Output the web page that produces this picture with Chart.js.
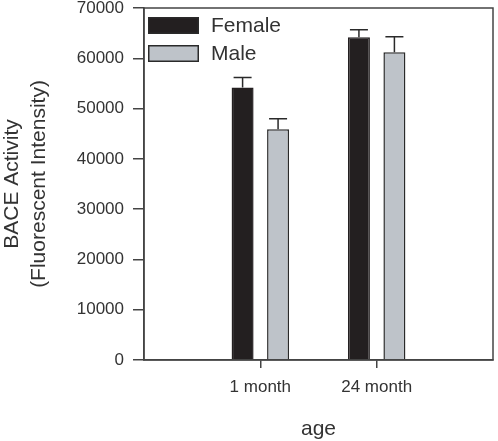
<html>
	<head>
	<title>BACE Activity</title>
	<meta charset="utf-8">
	<script src="https://cdn.jsdelivr.net/npm/chart.js@4.4.1/dist/chart.umd.min.js"></script>
	<style>
		body { margin: 0; background: #fff; }
		canvas { display: block; }
	</style>
	</head>
	<body>
	<canvas id="baceChart" width="498" height="441"></canvas>
	<script>
	// values
	var categories = ['1 month', '24 month'];
	var seriesNames = ['Female', 'Male'];
	var femaleMean = [54200, 64200];
	var femaleErr = [2000, 1450];
	var maleMean = [45900, 61200];
	var maleErr = [2100, 3100];
	var yTicks = [0, 10000, 20000, 30000, 40000, 50000, 60000, 70000];

	var font = '"Liberation Sans", Arial, sans-serif';
	var ink = '#333333';
	var axisColor = '#444444';

	// empty slots either side so the two groups sit at 1/3 and 2/3 of the axis
	var labels = [''].concat(categories).concat(['']);
	function pad(arr) { return [null].concat(arr).concat([null]); }

	// up-only error bars with a cap
	var errorBars = {
		id: 'errorBars',
		afterDatasetsDraw: function(chart) {
			var ctx = chart.ctx;
			var y = chart.scales.y;
			ctx.save();
			ctx.strokeStyle = '#2a2a2a';
			ctx.lineWidth = 1.5;
			chart.data.datasets.forEach(function(ds, di) {
				var meta = chart.getDatasetMeta(di);
				meta.data.forEach(function(bar, i) {
					var v = ds.data[i];
					var e = ds.errors[i];
					if (v == null || e == null) return;
					var yTop = y.getPixelForValue(v + e);
					ctx.beginPath();
					ctx.moveTo(bar.x, bar.y);
					ctx.lineTo(bar.x, yTop);
					ctx.moveTo(bar.x - 9, yTop);
					ctx.lineTo(bar.x + 9, yTop);
					ctx.stroke();
				});
			});
			ctx.restore();
		}
	};

	// closed frame round the plot area
	var frame = {
		id: 'frame',
		afterDraw: function(chart) {
			var a = chart.chartArea;
			var ctx = chart.ctx;
			ctx.save();
			ctx.strokeStyle = axisColor;
			ctx.lineWidth = 1.5;
			ctx.strokeRect(a.left, a.top, a.right - a.left, a.bottom - a.top);
			ctx.restore();
		}
	};

	// legend stacked in the top-left corner of the plot
	var cornerLegend = {
		id: 'cornerLegend',
		afterDraw: function(chart) {
			var a = chart.chartArea;
			var ctx = chart.ctx;
			ctx.save();
			chart.data.datasets.forEach(function(ds, i) {
				var bx = a.left + 4, by = a.top + 9 + i * 28;
				ctx.fillStyle = ds.backgroundColor;
				ctx.fillRect(bx, by, 51, 17);
				ctx.strokeStyle = '#2a2a2a';
				ctx.lineWidth = 1.5;
				ctx.strokeRect(bx + 0.75, by + 0.75, 49.5, 15.5);
				ctx.fillStyle = ink;
				ctx.font = '21px ' + font;
				ctx.textBaseline = 'middle';
				ctx.textAlign = 'left';
				ctx.fillText(ds.label, a.left + 67, by + 9);
			});
			ctx.restore();
		}
	};

	var ctx = document.getElementById('baceChart').getContext('2d');
	var baceChart = new Chart(ctx, {
		type: 'bar',
		data: {
			labels: labels,
			datasets: [{
				label: seriesNames[0],
				data: pad(femaleMean),
				errors: pad(femaleErr),
				backgroundColor: '#231f20',
				borderColor: '#231f20',
				borderWidth: 1.5,
				categoryPercentage: 0.61,
				barPercentage: 0.62
			}, {
				label: seriesNames[1],
				data: pad(maleMean),
				errors: pad(maleErr),
				backgroundColor: '#bec3c9',
				borderColor: '#2a2a2a',
				borderWidth: 1.5,
				categoryPercentage: 0.61,
				barPercentage: 0.62
			}]
		},
		plugins: [errorBars, frame, cornerLegend],
		options: {
			responsive: false,
			animation: false,
			layout: { padding: { left: 0, top: 8, right: 5, bottom: 0 } },
			plugins: {
				legend: { display: false },
				tooltip: { enabled: false }
			},
			scales: {
				x: {
					offset: false,
					afterFit: function(s) { s.height = 81; s.paddingLeft = 0; s.paddingRight = 0; },
					grid: {
						offset: false,
						drawOnChartArea: false,
						tickLength: 8,
						lineWidth: 1.5,
						tickColor: function(c) { return c.tick && c.tick.label ? axisColor : 'rgba(0,0,0,0)'; }
					},
					border: { color: axisColor, width: 1.5 },
					ticks: { color: ink, font: { family: font, size: 17 }, padding: 9, maxRotation: 0, autoSkip: false },
					title: {
						display: true,
						text: 'age',
						color: ink,
						font: { family: font, size: 21 },
						padding: { top: 0, bottom: -1 }
					}
				},
				y: {
					min: 0,
					max: 70000,
					afterFit: function(s) { s.width = 144; s.paddingTop = 0; s.paddingBottom = 0; },
					afterBuildTicks: function(s) { s.ticks = yTicks.map(function(v) { return { value: v }; }); },
					grid: { drawOnChartArea: false, tickLength: 11, lineWidth: 1.5, color: axisColor },
					border: { color: axisColor, width: 1.5 },
					ticks: {
						color: ink,
						font: { family: font, size: 17 },
						padding: 9,
						callback: function(v) { return String(v); }
					},
					title: {
						display: true,
						text: ['BACE Activity', '(Fluorescent Intensity)'],
						color: ink,
						font: { family: font, size: 21, lineHeight: 1.28 },
						padding: { top: -1, bottom: 0 }
					}
				}
			}
		}
	});
	</script>
	</body>
</html>
